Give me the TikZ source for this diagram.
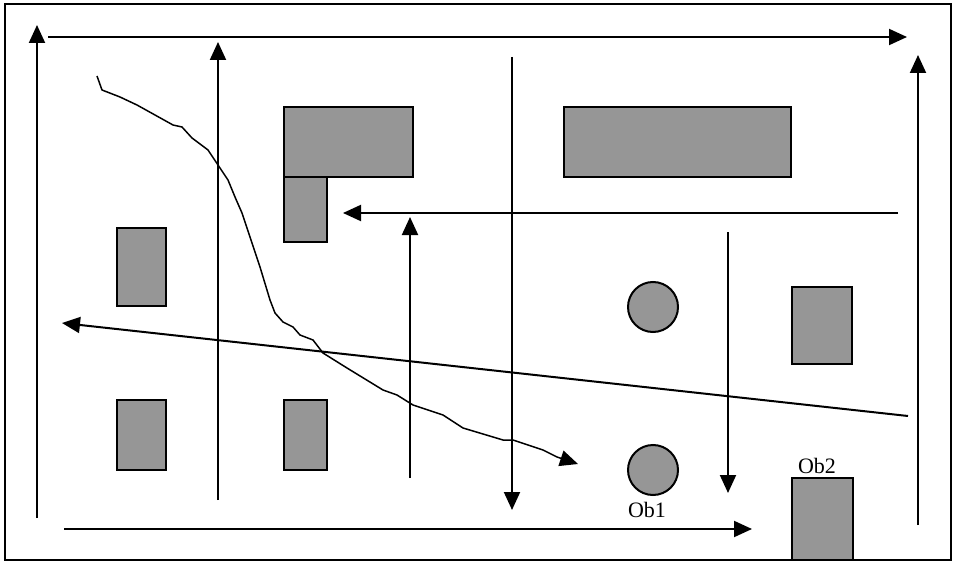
\documentclass[tikz,border=0pt]{standalone}
\usepackage{fontspec}
\setmainfont{Liberation Serif}
\usetikzlibrary{arrows.meta}
\definecolor{obgray}{RGB}{150,150,150}
\begin{document}
\begin{tikzpicture}[x=1pt,y=-1pt,
  obst/.style={draw=black, line width=2pt, fill=obgray, inner sep=0pt, outer sep=0pt, anchor=north west},
  obcirc/.style={circle, draw=black, line width=2pt, fill=obgray, inner sep=0pt, minimum size=50pt},
  route/.style={line width=2pt, -{Triangle[length=18pt,width=16pt]}},
  trail/.style={line width=1.5pt, -{Triangle[length=18pt,width=16pt]}},
  lbl/.style={font=\fontsize{22}{26}\selectfont, inner sep=0pt}
]
\useasboundingbox (0,0) rectangle (955,564);
\draw[line width=1.8pt] (5,4) rectangle (951,560);

% obstacles
\node[obst, minimum width=129pt, minimum height=70pt] (A) at (284,107) {};
\node[obst, minimum width=43pt, minimum height=65pt] (B) at (284,177) {};
\node[obst, minimum width=227pt, minimum height=70pt] (C) at (564,107) {};
\node[obst, minimum width=49pt, minimum height=78pt] (D) at (117,228) {};
\node[obst, minimum width=49pt, minimum height=70pt] (E) at (117,400) {};
\node[obst, minimum width=43pt, minimum height=70pt] (F) at (284,400) {};
\node[obst, minimum width=60pt, minimum height=77pt] (G) at (792,287) {};
\node[obst, minimum width=61pt, minimum height=82pt] (H) at (792,478) {};
\node[obcirc] (K) at (653,307) {};
\node[obcirc] (L) at (653,470) {};
\node[lbl] (ob1) at (647,510) {Ob1};
\node[lbl] (ob2) at (817,466) {Ob2};

% arrow end points
\coordinate (a1s) at (37,518);  \coordinate (a1e) at (37,25);
\coordinate (a2s) at (48,37);   \coordinate (a2e) at (907,37);
\coordinate (a3s) at (218,500); \coordinate (a3e) at (218,42);
\coordinate (a4s) at (512,57);  \coordinate (a4e) at (512,510);
\coordinate (a5s) at (898,213); \coordinate (a5e) at (343,213);
\coordinate (a6s) at (410,478); \coordinate (a6e) at (410,217);
\coordinate (a7s) at (728,232); \coordinate (a7e) at (728,493);
\coordinate (a8s) at (918,525); \coordinate (a8e) at (918,55);
\coordinate (a9s) at (64,529);  \coordinate (a9e) at (752,529);
\coordinate (a10s) at (908,416); \coordinate (a10e) at (62,323);

\draw[route] (a1s) -- (a1e);
\draw[route] (a2s) -- (a2e);
\draw[route] (a3s) -- (a3e);
\draw[route] (a4s) -- (a4e);
\draw[route] (a5s) -- (a5e);
\draw[route] (a6s) -- (a6e);
\draw[route] (a7s) -- (a7e);
\draw[route] (a8s) -- (a8e);
\draw[route] (a9s) -- (a9e);
\draw[route] (a10s) -- (a10e);

% wandering trail
\coordinate (ts) at (97,76);
\coordinate (te) at (578,464);
\draw[trail, line join=round] (ts) -- (102,90) -- (120,97) -- (137,105) -- (173,125) -- (182,127)
  -- (192,138) -- (208,150) -- (218,165) -- (228,180) -- (235,197) -- (242,213)
  -- (250,237) -- (260,267) -- (270,300) -- (275,313) -- (283,322) -- (293,327)
  -- (300,335) -- (313,340) -- (323,353) -- (347,368) -- (383,390) -- (397,395)
  -- (413,405) -- (443,415) -- (463,428) -- (503,440) -- (513,440) -- (543,450)
  -- (557,457) -- (te);
\end{tikzpicture}
\end{document}
